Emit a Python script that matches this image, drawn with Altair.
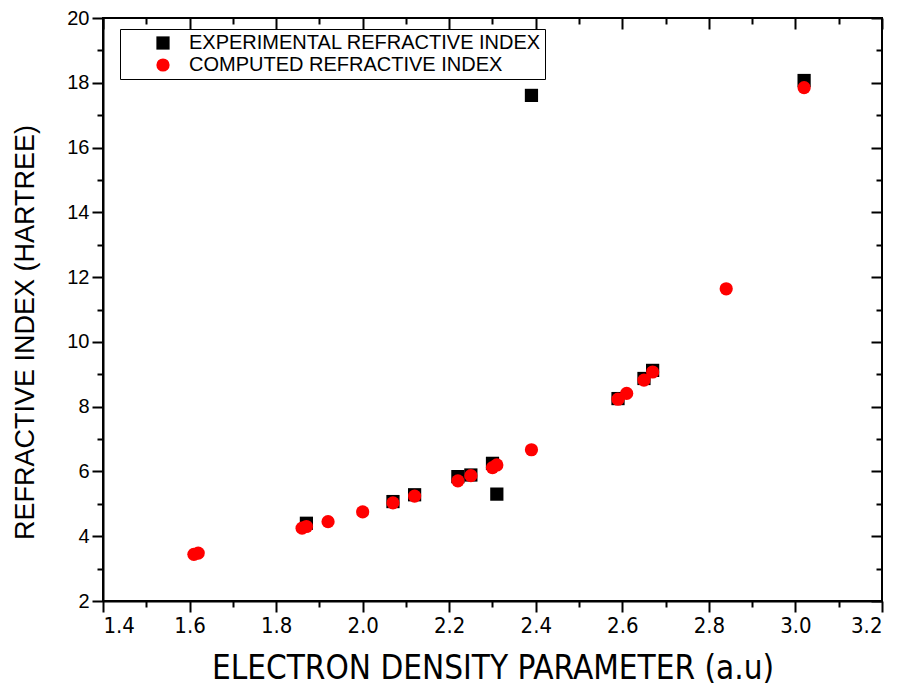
import altair as alt
import pandas as pd

# ---- data ----
series_names = ["EXPERIMENTAL REFRACTIVE INDEX", "COMPUTED REFRACTIVE INDEX"]

x_experimental = [1.87, 2.07, 2.12, 2.22, 2.25, 2.30, 2.31, 2.39, 2.59, 2.65, 2.67, 3.02]
y_experimental = [4.40, 5.07, 5.28, 5.84, 5.89, 6.25, 5.30, 17.61, 8.25, 8.87, 9.12, 18.07]

x_computed = [1.61, 1.62, 1.86, 1.87, 1.92, 2.00, 2.07, 2.12, 2.22, 2.25,
              2.30, 2.31, 2.39, 2.59, 2.61, 2.65, 2.67, 2.84, 3.02]
y_computed = [3.44, 3.48, 4.25, 4.30, 4.45, 4.75, 5.03, 5.24, 5.71, 5.87,
              6.12, 6.20, 6.67, 8.23, 8.41, 8.82, 9.07, 11.64, 17.85]

x_major = [1.4, 1.6, 1.8, 2.0, 2.2, 2.4, 2.6, 2.8, 3.0, 3.2]
x_minor = [1.5, 1.7, 1.9, 2.1, 2.3, 2.5, 2.7, 2.9, 3.1]
y_major = [2, 4, 6, 8, 10, 12, 14, 16, 18, 20]
y_minor = [3, 5, 7, 9, 11, 13, 15, 17, 19]

rows = []
for i, (a, b) in enumerate(zip(x_experimental, y_experimental)):
    rows.append({"x": a, "y": b, "series": series_names[0], "k": i})
for i, (a, b) in enumerate(zip(x_computed, y_computed)):
    rows.append({"x": a, "y": b, "series": series_names[1], "k": 100 + i})
df = pd.DataFrame(rows)

FONT = "Liberation Sans"
NARROW = "DejaVu Sans Condensed, Liberation Sans"
x_scale = alt.Scale(domain=[1.4, 3.2], nice=False, zero=False)
y_scale = alt.Scale(domain=[2, 20], nice=False, zero=False)

MAJ = 11
MIN = 6

base = alt.Chart(df)

points = base.mark_point(filled=True, opacity=1, size=175).encode(
    x=alt.X("x:Q", scale=x_scale, axis=alt.Axis(
        values=x_major, format=".1f", tickSize=MAJ, tickWidth=2, tickColor="black",
        domain=True, domainColor="black", domainWidth=2, grid=False,
        labelFont=NARROW, labelFontSize=22, labelColor="black", labelPadding=3,
        title="ELECTRON DENSITY PARAMETER (a.u)", titleFont=NARROW, titleFontSize=33,
        titleFontWeight="normal", titleColor="black", titleY=67, titleBaseline="middle")),
    y=alt.Y("y:Q", scale=y_scale, axis=alt.Axis(
        values=y_major, format="d", tickSize=MAJ, tickWidth=2, tickColor="black",
        domain=True, domainColor="black", domainWidth=2, grid=False,
        labelFont=FONT, labelFontSize=20, labelColor="black", labelPadding=3,
        title="REFRACTIVE INDEX (HARTREE)", titleFont=FONT, titleFontSize=27,
        titleFontWeight="normal", titleColor="black", titleX=-78, titleY=314,
        titleAngle=-90, titleBaseline="middle")),
    color=alt.Color("series:N", scale=alt.Scale(domain=series_names, range=["black", "red"]),
                    legend=alt.Legend(title=None, orient="none", legendX=17, legendY=11,
                                      labelFont=FONT, labelFontSize=20, labelColor="black",
                                      labelExpr="datum.label + '\u00a0\u00a0\u00a0'",
                                      symbolSize=175, symbolStrokeWidth=0, symbolOffset=29,
                                      labelOffset=16, rowPadding=2, padding=4,
                                      strokeColor="black", fillColor="white", labelLimit=600)),
    shape=alt.Shape("series:N", scale=alt.Scale(domain=series_names, range=["square", "circle"]),
                    legend=None),
    order=alt.Order("k:Q"),
)

def ghost(xaxis, yaxis):
    return base.mark_point(opacity=0).encode(
        x=alt.X("x:Q", scale=x_scale, axis=xaxis),
        y=alt.Y("y:Q", scale=y_scale, axis=yaxis),
    )

common = dict(labels=False, domain=False, grid=False, title=None, tickColor="black", tickWidth=2)

minor_bl = ghost(
    alt.Axis(orient="bottom", values=x_minor, tickSize=MIN, **common),
    alt.Axis(orient="left", values=y_minor, tickSize=MIN, **common),
)
major_tr = ghost(
    alt.Axis(orient="top", values=x_major, tickSize=MAJ, offset=-MAJ, **common),
    alt.Axis(orient="right", values=y_major, tickSize=MAJ, offset=-MAJ, **common),
)
minor_tr = ghost(
    alt.Axis(orient="top", values=x_minor, tickSize=MIN, offset=-MIN, **common),
    alt.Axis(orient="right", values=y_minor, tickSize=MIN, offset=-MIN, **common),
)

chart = alt.layer(points, minor_bl, major_tr, minor_tr).resolve_axis(
    x="independent", y="independent"
).properties(
    width=779, height=583,
    autosize=alt.AutoSizeParams(type="none"),
    padding={"left": 95, "top": 10, "right": 11, "bottom": 88},
).configure_view(stroke="black", strokeWidth=2)

chart.save("out.html", embed_options={"renderer": "svg", "actions": False})
